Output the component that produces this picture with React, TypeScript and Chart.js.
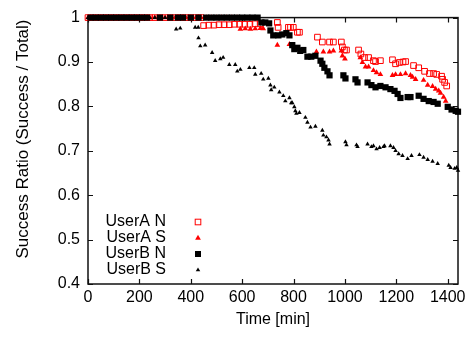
import { useEffect, useRef } from 'react';
import { Chart, registerables } from 'chart.js';

Chart.register(...registerables);

const seriesNames = ['UserA N', 'UserA S', 'UserB N', 'UserB S'];
const xTickValues = [0, 200, 400, 600, 800, 1000, 1200, 1400];
const yTickValues = [0.4, 0.5, 0.6, 0.7, 0.8, 0.9, 1];
const xTitle = 'Time [min]';
const yTitle = 'Success Ratio (Success / Total)';

// [time in minutes, success ratio]
const userANPoints: [number, number][] = [
  [0, 1], [20, 1], [40, 1], [60, 1], [80, 1], [100, 1], [120, 1], [140, 1], [160, 1], [180, 1],
  [200, 1], [220, 1], [240, 1], [260, 1], [280, 1], [300, 1], [320, 1], [340, 1], [360, 1], [380, 1],
  [400, 1], [420, 1], [440, 1],
  [450, 0.982], [470, 0.983], [490, 0.983], [510, 0.984], [530, 0.984], [550, 0.984], [570, 0.985],
  [590, 0.985], [610, 0.985], [630, 0.985], [650, 0.986], [670, 0.986],
  [737, 0.989], [740, 0.978], [780, 0.978], [788, 0.978], [799, 0.978], [815, 0.967], [823, 0.967],
  [893, 0.956], [912, 0.945], [940, 0.945], [955, 0.945], [986, 0.945], [990, 0.934], [998, 0.927],
  [1006, 0.927], [1053, 0.927], [1062, 0.918], [1076, 0.910], [1092, 0.910], [1111, 0.903], [1119, 0.901],
  [1138, 0.903], [1185, 0.905], [1197, 0.896], [1212, 0.899], [1226, 0.900], [1236, 0.901], [1267, 0.892],
  [1287, 0.887], [1310, 0.879], [1329, 0.874], [1345, 0.874], [1357, 0.872], [1376, 0.868], [1380, 0.861],
  [1388, 0.854], [1396, 0.846],
];

const userASPoints: [number, number][] = [
  [0, 1], [20, 1], [40, 1], [60, 1], [80, 1], [100, 1], [120, 1], [140, 1], [160, 1], [180, 1],
  [200, 1], [220, 1], [240, 1], [260, 1], [280, 1], [300, 1], [320, 1], [340, 1], [360, 1], [380, 1],
  [400, 1], [420, 1], [440, 1], [460, 1], [480, 1], [500, 1], [520, 1], [540, 1], [560, 1], [580, 1],
  [593, 0.974], [612, 0.975], [632, 0.974], [651, 0.975], [671, 0.976], [682, 0.975],
  [737, 0.938], [784, 0.940], [889, 0.923], [916, 0.923], [940, 0.923], [955, 0.925], [986, 0.925],
  [990, 0.914], [1000, 0.907], [1060, 0.910], [1068, 0.899], [1080, 0.889], [1092, 0.889], [1111, 0.881],
  [1123, 0.876], [1138, 0.872], [1185, 0.870], [1197, 0.872], [1216, 0.872], [1236, 0.874], [1255, 0.870],
  [1263, 0.866], [1275, 0.861], [1306, 0.859], [1322, 0.848], [1341, 0.845], [1353, 0.839], [1365, 0.835],
  [1372, 0.830], [1384, 0.821], [1392, 0.812],
];

const userBNPoints: [number, number][] = [
  [10, 1], [30, 1], [50, 1], [70, 1], [90, 1], [110, 1], [130, 1], [150, 1], [170, 1], [190, 1],
  [210, 1], [230, 1], [280, 1], [320, 1], [350, 1], [370, 1], [400, 1], [430, 1], [460, 1], [480, 1],
  [500, 1], [520, 1], [540, 1], [560, 1], [580, 1], [600, 1], [620, 1], [640, 1], [660, 1],
  [675, 0.989], [690, 0.989], [705, 0.987], [710, 0.971], [721, 0.960], [741, 0.960], [756, 0.962],
  [772, 0.965], [784, 0.960], [795, 0.938], [803, 0.929], [815, 0.932], [826, 0.925], [838, 0.927],
  [854, 0.912], [869, 0.912], [885, 0.914], [905, 0.903], [912, 0.896], [920, 0.887], [932, 0.879],
  [940, 0.870], [994, 0.870], [1002, 0.863], [1041, 0.861], [1049, 0.854], [1088, 0.854], [1103, 0.848],
  [1119, 0.843], [1138, 0.846], [1158, 0.843], [1177, 0.839], [1193, 0.835], [1205, 0.828], [1216, 0.819],
  [1244, 0.821], [1255, 0.821], [1287, 0.824], [1306, 0.817], [1326, 0.812], [1345, 0.810], [1361, 0.806],
  [1400, 0.799], [1415, 0.793], [1431, 0.790], [1440, 0.788],
];

const userBSPoints: [number, number][] = [
  [0, 1], [20, 1], [40, 1], [60, 1], [80, 1], [100, 1], [120, 1], [140, 1], [160, 1], [180, 1],
  [200, 1], [220, 1], [240, 1], [260, 1], [280, 1], [300, 1], [320, 1],
  [343, 0.974], [359, 0.976], [417, 0.978], [429, 0.978], [430, 0.954], [437, 0.936], [456, 0.938],
  [483, 0.921], [495, 0.903], [515, 0.907], [526, 0.910], [550, 0.894], [573, 0.894], [581, 0.879],
  [593, 0.883], [628, 0.887], [647, 0.887], [651, 0.872], [674, 0.874], [682, 0.861], [702, 0.863],
  [710, 0.848], [713, 0.837], [725, 0.843], [745, 0.832], [760, 0.824], [768, 0.812], [784, 0.819],
  [791, 0.808], [795, 0.808], [803, 0.799], [807, 0.790], [811, 0.784], [823, 0.786], [846, 0.775],
  [854, 0.764], [866, 0.753], [885, 0.755], [912, 0.746], [916, 0.735], [928, 0.731], [936, 0.724],
  [940, 0.715], [1002, 0.720], [1006, 0.713], [1045, 0.713], [1049, 0.709], [1088, 0.715], [1103, 0.709],
  [1111, 0.711], [1123, 0.704], [1135, 0.707], [1150, 0.709], [1154, 0.711], [1177, 0.711], [1189, 0.707],
  [1197, 0.700], [1209, 0.693], [1224, 0.689], [1244, 0.682], [1259, 0.689], [1290, 0.691], [1306, 0.685],
  [1322, 0.680], [1341, 0.676], [1361, 0.671], [1404, 0.667], [1411, 0.662], [1427, 0.660], [1435, 0.662],
  [1440, 0.656],
];

const RED = 'rgb(255,0,0)';
const BLACK = '#000';
const FONT = '"Liberation Sans", Arial, Helvetica, sans-serif';

const toXY = (pts: [number, number][]) => pts.map(([x, y]) => ({ x, y }));

function drawMarker(ctx: CanvasRenderingContext2D, kind: number, x: number, y: number) {
  ctx.save();
  if (kind === 0) {
    ctx.strokeStyle = RED;
    ctx.lineWidth = 1;
    ctx.strokeRect(x - 2.8, y - 2.8, 5.6, 5.6);
  } else if (kind === 1) {
    ctx.fillStyle = RED;
    ctx.beginPath();
    ctx.moveTo(x, y - 3.3);
    ctx.lineTo(x + 2.86, y + 1.65);
    ctx.lineTo(x - 2.86, y + 1.65);
    ctx.closePath();
    ctx.fill();
  } else if (kind === 2) {
    ctx.fillStyle = BLACK;
    ctx.fillRect(x - 3, y - 3, 6, 6);
  } else {
    ctx.fillStyle = BLACK;
    ctx.beginPath();
    ctx.moveTo(x, y - 2.6);
    ctx.lineTo(x + 2.25, y + 1.3);
    ctx.lineTo(x - 2.25, y + 1.3);
    ctx.closePath();
    ctx.fill();
  }
  ctx.restore();
}

const framePlugin = {
  id: 'gnuFrame',
  beforeDatasetsDraw(chart: any) {
    const { ctx, chartArea } = chart;
    const { left, right, top, bottom } = chartArea;
    const xs = chart.scales.x;
    const ys = chart.scales.y;
    ctx.save();
    ctx.strokeStyle = '#111';
    ctx.lineWidth = 1.2;
    ctx.beginPath();
    xs.ticks.forEach((t: any) => {
      const px = Math.round(xs.getPixelForValue(t.value)) + 0.5;
      ctx.moveTo(px, bottom);
      ctx.lineTo(px, bottom - 5);
      ctx.moveTo(px, top);
      ctx.lineTo(px, top + 5);
    });
    ys.ticks.forEach((t: any) => {
      const py = Math.round(ys.getPixelForValue(t.value)) + 0.5;
      ctx.moveTo(left, py);
      ctx.lineTo(left + 5, py);
      ctx.moveTo(right, py);
      ctx.lineTo(right - 5, py);
    });
    ctx.stroke();
    ctx.lineWidth = 1.5;
    ctx.strokeRect(left, top, right - left, bottom - top);
    ctx.restore();
  },
  afterDatasetsDraw(chart: any) {
    const { ctx, chartArea } = chart;
    const { left, bottom } = chartArea;
    ctx.save();
    ctx.font = `16px ${FONT}`;
    ctx.fillStyle = '#000';
    ctx.textAlign = 'right';
    ctx.textBaseline = 'middle';
    seriesNames.forEach((name, i) => {
      const y = bottom - 62 + i * 16;
      ctx.fillText(name, left + 78, y);
      drawMarker(ctx, i, left + 110, y);
    });
    // y axis title
    ctx.translate(23, 139);
    ctx.rotate(-Math.PI / 2);
    ctx.textAlign = 'center';
    ctx.font = `17px ${FONT}`;
    ctx.fillText(yTitle, 0, 0);
    ctx.restore();
  },
};

export default function App() {
  const canvasRef = useRef<HTMLCanvasElement | null>(null);

  useEffect(() => {
    if (!canvasRef.current) return;
    const chart = new Chart(canvasRef.current, {
      type: 'scatter',
      data: {
        datasets: [
          {
            label: seriesNames[3],
            data: toXY(userBSPoints),
            pointStyle: 'triangle',
            pointRadius: 2.6,
            backgroundColor: BLACK,
            borderColor: BLACK,
            borderWidth: 0,
            clip: false,
          },
          {
            label: seriesNames[2],
            data: toXY(userBNPoints),
            pointStyle: 'rect',
            pointRadius: 4.4,
            backgroundColor: BLACK,
            borderColor: BLACK,
            borderWidth: 0,
            clip: false,
          },
          {
            label: seriesNames[1],
            data: toXY(userASPoints),
            pointStyle: 'triangle',
            pointRadius: 3.3,
            backgroundColor: RED,
            borderColor: RED,
            borderWidth: 0,
            clip: false,
          },
          {
            label: seriesNames[0],
            data: toXY(userANPoints),
            pointStyle: 'rect',
            pointRadius: 4,
            backgroundColor: 'rgba(255,255,255,0)',
            borderColor: RED,
            borderWidth: 1,
            clip: false,
          },
        ] as any,
      },
      options: {
        responsive: false,
        animation: false,
        events: [],
        layout: { padding: { left: 0, right: 14, top: 12, bottom: 0 } },
        plugins: { legend: { display: false }, tooltip: { enabled: false } },
        scales: {
          x: {
            type: 'linear',
            min: 0,
            max: 1440,
            afterFit: (s: any) => { s.height = 54; },
            afterBuildTicks: (s: any) => { s.ticks = xTickValues.map((v) => ({ value: v })); },
            grid: { display: false, drawTicks: false },
            border: { display: false },
            ticks: {
              padding: 4,
              color: '#000',
              font: { family: FONT, size: 16 },
              maxRotation: 0,
              autoSkip: false,
              callback: (v: any) => String(v),
            },
            title: {
              display: true,
              text: xTitle,
              color: '#000',
              font: { family: FONT, size: 16 },
              padding: { top: 0, bottom: 9 },
            },
          },
          y: {
            type: 'linear',
            min: 0.4,
            max: 1,
            afterFit: (s: any) => { s.width = 88; },
            afterBuildTicks: (s: any) => { s.ticks = yTickValues.map((v) => ({ value: v })); },
            grid: { display: false, drawTicks: false },
            border: { display: false },
            ticks: {
              padding: 8,
              color: '#000',
              font: { family: FONT, size: 16 },
              callback: (v: any) => String(Math.round(Number(v) * 10) / 10),
            },
            title: { display: false },
          },
        },
      } as any,
      plugins: [framePlugin],
    });
    return () => chart.destroy();
  }, []);

  return (
    <div style={{ position: 'fixed', left: 0, top: 0, width: 472, height: 338, background: '#fff' }}>
      <canvas ref={canvasRef} width={472} height={338} style={{ width: 472, height: 338 }} />
    </div>
  );
}
